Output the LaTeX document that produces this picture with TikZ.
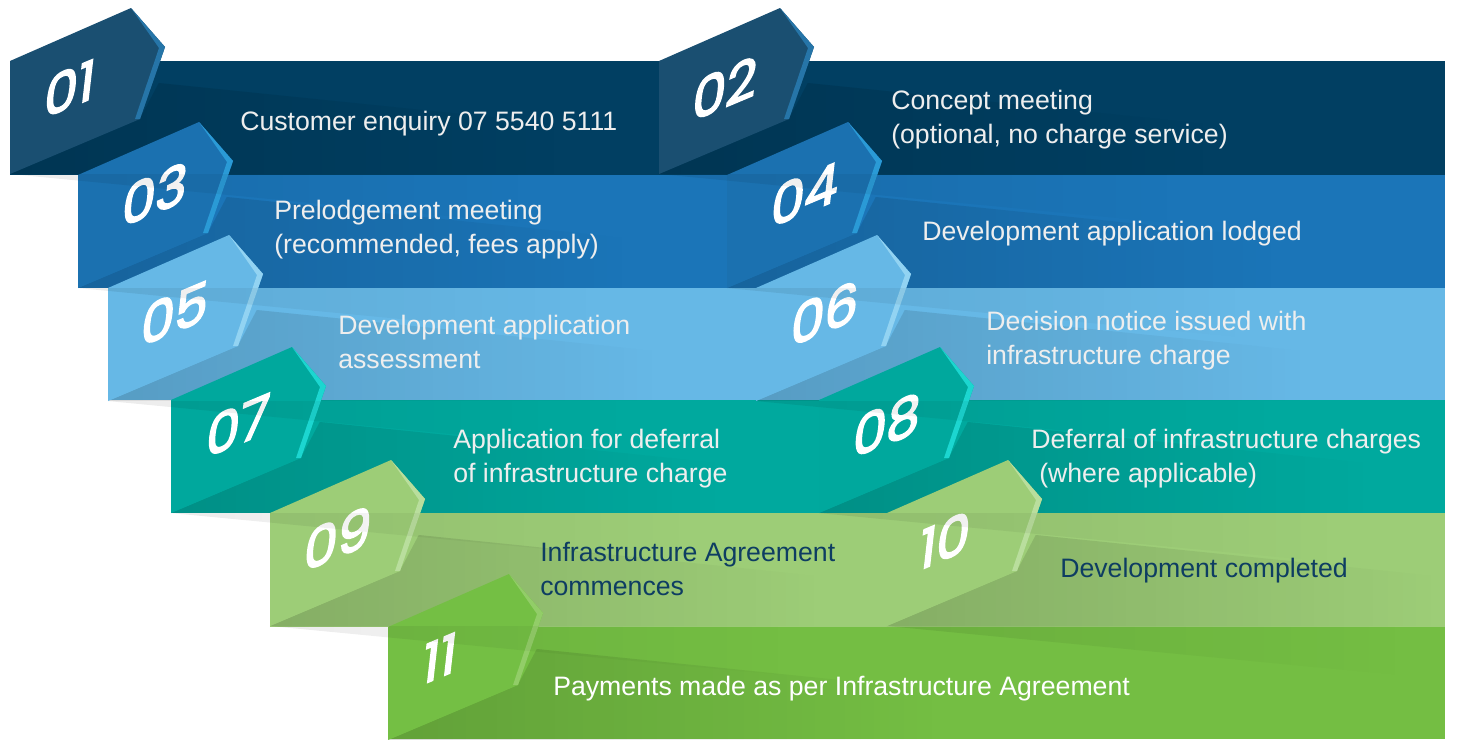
\documentclass[tikz,border=0pt]{standalone}
\usepackage{fontspec}
\setmainfont{Liberation Sans}
\newfontfamily\numfont[FakeBold=3]{Poppins}
\usetikzlibrary{fadings}

\definecolor{navyband}{HTML}{013F62}
\definecolor{navytab}{HTML}{1A4F71}
\definecolor{navystrip}{HTML}{2675A8}
\definecolor{blueband}{HTML}{1B75B8}
\definecolor{bluetab}{HTML}{1B71B0}
\definecolor{bluestrip}{HTML}{2A9AD6}
\definecolor{skyband}{HTML}{66B8E6}
\definecolor{skytab}{HTML}{66B8E6}
\definecolor{skystrip}{HTML}{92D3F2}
\definecolor{tealband}{HTML}{00A99E}
\definecolor{tealtab}{HTML}{00A89D}
\definecolor{tealstrip}{HTML}{1CD6D0}
\definecolor{limeband}{HTML}{9DCD77}
\definecolor{limetab}{HTML}{9DCD77}
\definecolor{limestrip}{HTML}{B9DE9D}
\definecolor{grassband}{HTML}{74BE43}
\definecolor{grasstab}{HTML}{74BF44}
\definecolor{grassstrip}{HTML}{92CD68}
\definecolor{inknavy}{HTML}{0E3D62}
\definecolor{offwhite}{HTML}{EEEEEE}

\pgfdeclarelayer{bandlayer}
\pgfdeclarelayer{foldlayer}
\pgfdeclarelayer{droplayer}
\pgfdeclarelayer{textlayer}
\pgfsetlayers{bandlayer,foldlayer,main,droplayer,textlayer}

% tab: left x, band top, colour prefix, number, number centre
\newcommand{\steptab}[5]{%
  \begin{pgfonlayer}{foldlayer}
    \fill[black, opacity=0.15, path fading=east] (#1,#2+113) -- (#1+130,#2+58) -- (#1+149,#2+22) -- (#1+550,#2+63) -- (#1+550,#2+113) -- cycle;
  \end{pgfonlayer}
  \begin{pgfonlayer}{droplayer}
    \fill[black, opacity=0.08, path fading=east] (#1,#2+113) -- (#1+520,#2+113) -- (#1+520,#2+163) -- cycle;
  \end{pgfonlayer}
  \fill[#3tab] (#1,#2) -- (#1+121,#2-53) -- (#1+155,#2-14) -- (#1+130,#2+58) -- (#1,#2+113) -- cycle;
  \fill[#3strip] (#1+121,#2-53) -- (#1+155,#2-14) -- (#1+130,#2+58) -- (#1+125,#2+58) -- (#1+149,#2-13) -- cycle;
  \node[numlabel] (n#4) at (#5) {#4};
}

\begin{document}
\begin{tikzpicture}[
    x=0.75pt, y=-0.75pt,
    numlabel/.style={font=\numfont\fontsize{40}{40}\selectfont, text=white, yslant=0.42, xslant=0.12, inner sep=0pt},
    steptext/.style={font=\fontsize{20}{25.5}\selectfont, text=offwhite, align=left, anchor=base west, inner sep=0pt}
]
    \useasboundingbox (0,0) rectangle (1458,739);

    % bands
    \begin{pgfonlayer}{bandlayer}
        \fill[navyband] (10,61) rectangle (1445,175);
        \fill[blueband] (78,175) rectangle (1445,288);
        \fill[skyband] (108,288) rectangle (1445,400);
        \fill[tealband] (171,400) rectangle (1445,513);
        \fill[limeband] (270,513) rectangle (1445,627);
        \fill[grassband] (388,627) rectangle (1445,739);
    \end{pgfonlayer}

    % tabs
    \steptab{10}{61}{navy}{01}{70,88}
    \steptab{659}{61}{navy}{02}{725,88}
    \steptab{78}{175}{blue}{03}{155,194}
    \steptab{727}{175}{blue}{04}{805,194}
    \steptab{108}{288}{sky}{05}{175,313}
    \steptab{756}{288}{sky}{06}{825,313}
    \steptab{171}{400}{teal}{07}{238,425}
    \steptab{819}{400}{teal}{08}{887,425}
    \steptab{270}{513}{lime}{09}{338,538}
    \steptab{887}{513}{lime}{10}{945,540}
    \steptab{388}{627}{grass}{11}{440,658}

    % texts (base = last line)
    \begin{pgfonlayer}{textlayer}
        \node[steptext] (t01) at (240,130) {Customer enquiry 07 5540 5111};
        \node[steptext] (t02) at (891,143) {Concept meeting\\(optional, no charge service)};
        \node[steptext] (t03) at (274,253) {Prelodgement meeting\\(recommended, fees apply)};
        \node[steptext] (t04) at (922,240) {Development application lodged};
        \node[steptext] (t05) at (338,368) {Development application\\assessment};
        \node[steptext] (t06) at (986,364) {Decision notice issued with\\infrastructure charge};
        \node[steptext] (t07) at (453,482) {Application for deferral\\of infrastructure charge};
        \node[steptext] (t08) at (1031,482) {Deferral of infrastructure charges\\\hspace{6pt}(where applicable)};
        \node[steptext, text=inknavy] (t09) at (540,595) {Infrastructure Agreement\\commences};
        \node[steptext, text=inknavy] (t10) at (1060,577) {Development completed};
        \node[steptext, text=white] (t11) at (553,695) {Payments made as per Infrastructure Agreement};
    \end{pgfonlayer}
\end{tikzpicture}
\end{document}
